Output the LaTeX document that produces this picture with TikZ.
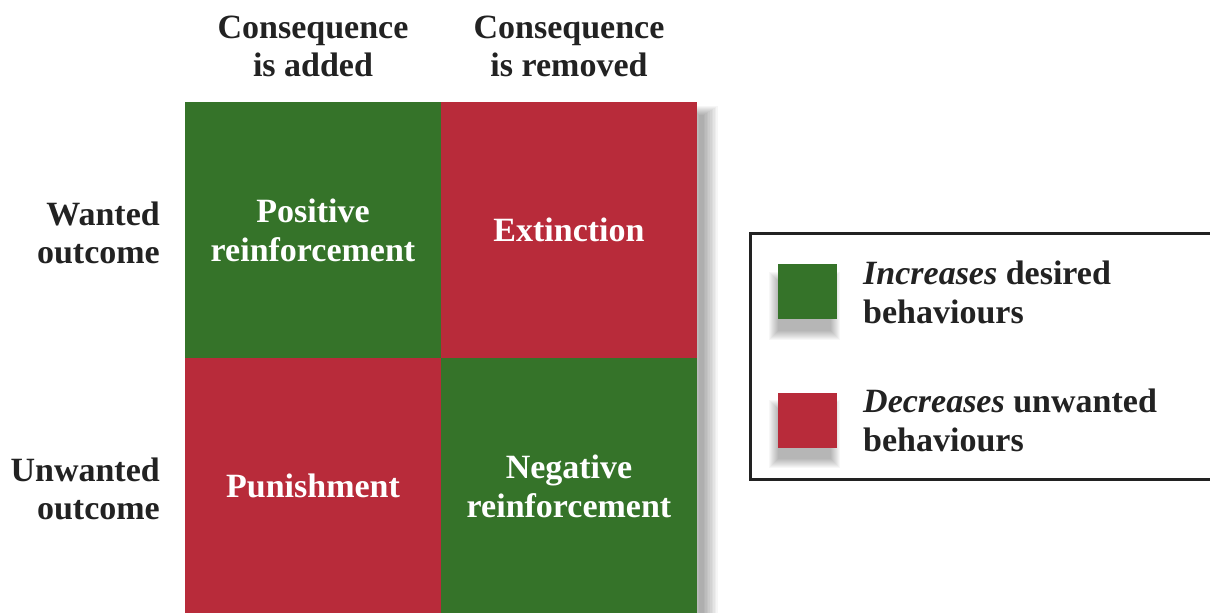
\documentclass[tikz,border=0pt]{standalone}
\usepackage{fontspec}
\setmainfont{Liberation Serif}
\definecolor{cgreen}{RGB}{53,115,41}
\definecolor{cred}{RGB}{184,43,58}
\definecolor{ink}{RGB}{34,34,34}
\begin{document}
\begin{tikzpicture}[x=1pt,y=-1pt,
  lbl/.style={font=\fontsize{34}{38}\selectfont\bfseries, text=ink, inner sep=0pt},
  cell/.style={minimum width=256pt, minimum height=256pt, inner sep=0pt,
    font=\fontsize{34}{39}\selectfont\bfseries, text=white, align=center},
  swatch/.style={minimum width=59pt, minimum height=55pt, inner sep=0pt},
  legtext/.style={font=\fontsize{34}{39}\selectfont\bfseries, text=ink, align=left, anchor=west, inner sep=0pt},
  haze/.style={fill=black, opacity=0.035}]
  \useasboundingbox[fill=white] (0,0) rectangle (1210,613);

  % soft shadow to the right of the grid
  \foreach \i in {0,...,9}
    \fill[haze] (690+\i,106+\i) rectangle (718-1.6*\i,640);

  % the four cells
  \node[cell, fill=cgreen] (pr) at (313,230) {Positive\\reinforcement};
  \node[cell, fill=cred]   (ex) at (569,230) {Extinction};
  \node[cell, fill=cred]   (pu) at (313,486) {Punishment};
  \node[cell, fill=cgreen] (nr) at (569,486) {Negative\\reinforcement};

  % column headings
  \node[lbl, align=center] (cadd) at (313,46) {Consequence\\is added};
  \node[lbl, align=center] (crem) at (569,46) {Consequence\\is removed};

  % row headings
  \node[lbl, align=right, anchor=east] (want) at (160,233) {Wanted\\outcome};
  \node[lbl, align=right, anchor=east] (unwant) at (160,489) {Unwanted\\outcome};

  % legend frame
  \draw[line width=3pt, ink] (750,233) rectangle (1220,479);

  % soft shadows under the swatches
  \foreach \i in {0,...,9} {
    \fill[haze, opacity=0.03] (769+\i,272+\i) rectangle (840-\i,340-\i);
    \fill[haze, opacity=0.03] (769+\i,400+\i) rectangle (840-\i,468-\i);
  }

  % legend entries
  \node[swatch, fill=cgreen] (sg) at (807.5,291.5) {};
  \node[swatch, fill=cred]   (sr) at (807.5,420) {};
  \node[legtext] (tg) at (863,292) {\textit{Increases} desired\\behaviours};
  \node[legtext] (tr) at (863,420) {\textit{Decreases} unwanted\\behaviours};
\end{tikzpicture}
\end{document}
